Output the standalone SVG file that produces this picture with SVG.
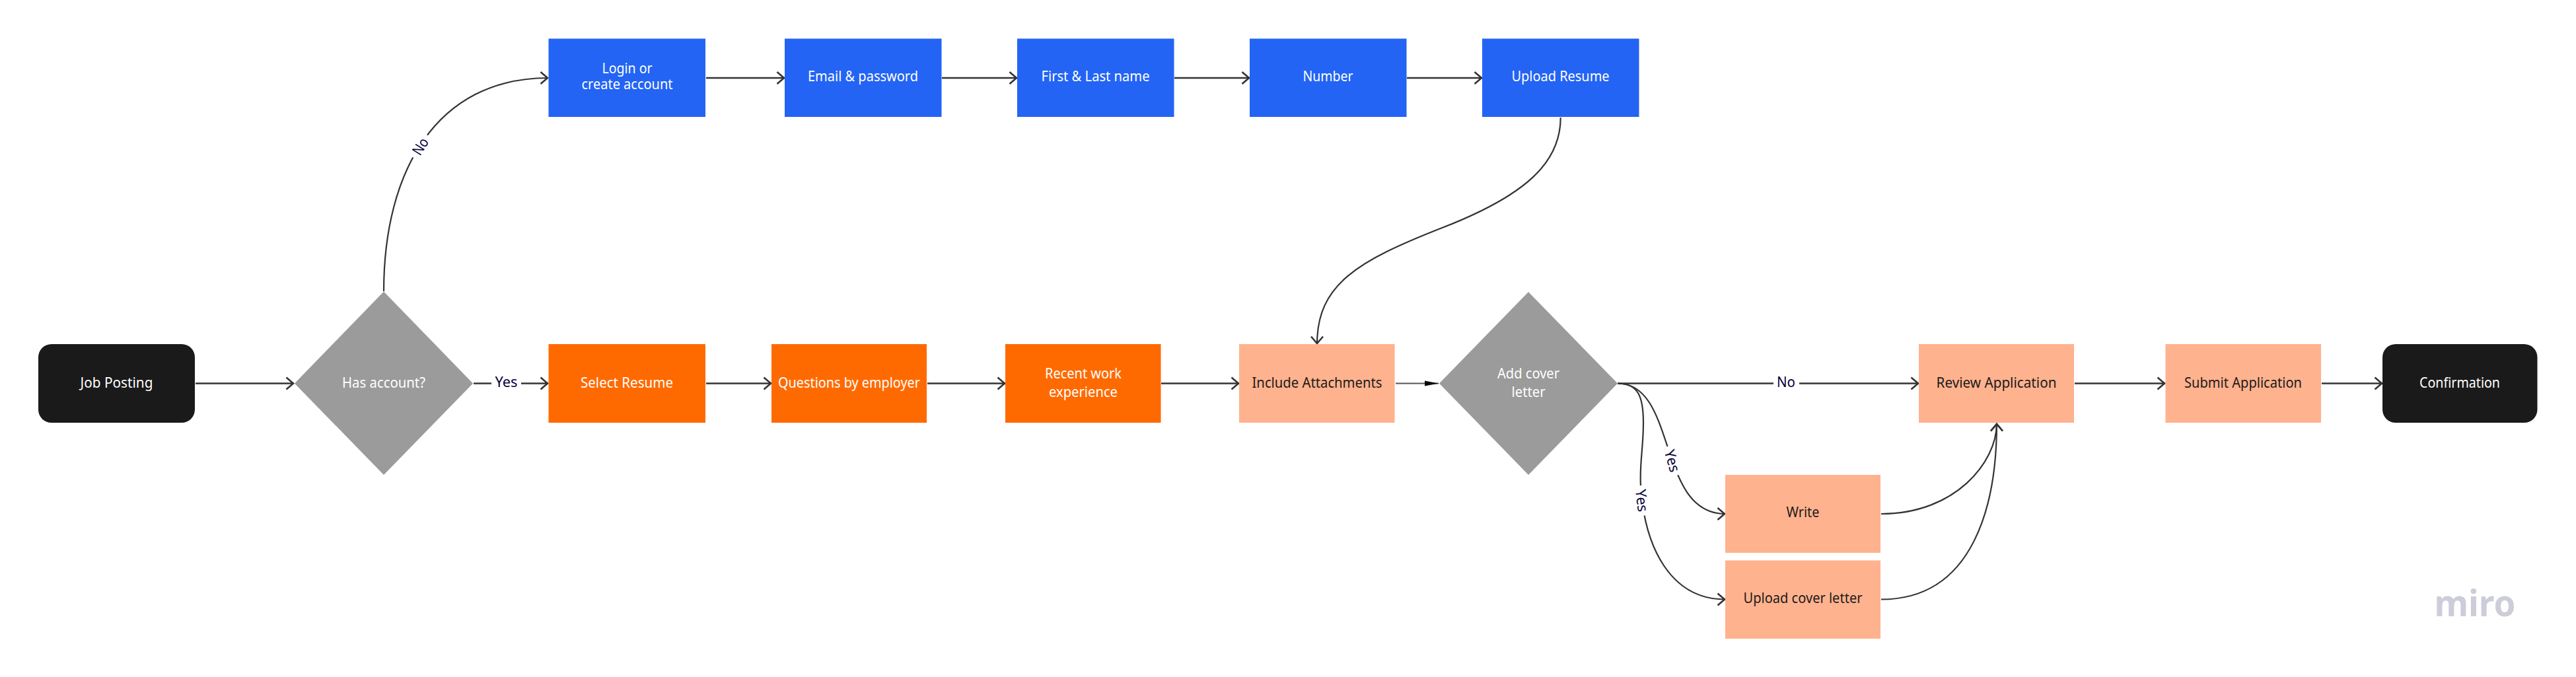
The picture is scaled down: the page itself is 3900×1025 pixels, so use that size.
<svg xmlns="http://www.w3.org/2000/svg" width="3900" height="1025" viewBox="0 0 3900 1025">
<style>
text{font-family:"Noto Sans","Open Sans","Liberation Sans",sans-serif;font-size:21px;text-anchor:middle}
.w{fill:#fff}.d{fill:#1c1a1a}.l{fill:#050038;font-size:22px}
.term{fill:#1a1a1a}.blue{fill:#2364f5}.orange{fill:#ff6a00}.peach{fill:#ffb28e}.dec{fill:#9b9b9b}
.c{fill:none;stroke:#333;stroke-width:2.6;marker-end:url(#open)}
.t{stroke-width:2.2}
</style>
<defs>
<marker id="open" markerUnits="userSpaceOnUse" markerWidth="26" markerHeight="26" refX="13" refY="12" orient="auto">
<path d="M1.5,3 L12,12 L1.5,21" fill="none" stroke="#333" stroke-width="2.6"/>
</marker>
<marker id="fill" markerUnits="userSpaceOnUse" markerWidth="24" markerHeight="14" refX="21" refY="7" orient="auto">
<path d="M0,3 L21,7 L0,11 Z" fill="#0a0a0a"/>
</marker>
</defs>
<rect width="3900" height="1025" fill="#fff"/>
<g id="connectors">
<path class="c" d="M296 580.500H445"/>
<path class="c" d="M717 580.500H830"/>
<path class="c t" d="M581 441C581 260 660 118 830 118"/>
<path class="c" d="M1069 118H1188"/>
<path class="c" d="M1426 118H1540"/>
<path class="c" d="M1778 118H1892"/>
<path class="c" d="M2130 118H2244"/>
<path class="c t" d="M2362.7 178C2362.7 245 2312 295 2183 345C2056 395 1994 430 1994 521"/>
<path class="c" d="M1069 580.500H1168"/>
<path class="c" d="M1404 580.500H1522"/>
<path class="c" d="M1758 580.500H1876"/>
<path d="M2113 580.500H2178" fill="none" stroke="#555" stroke-width="1.8" marker-end="url(#fill)"/>
<path class="c" d="M2450 580.500H2905"/>
<path class="c t" d="M2449 580.500C2540 580.500 2508 778 2612 778"/>
<path class="c t" d="M2449 580.500C2480 580.500 2488 600 2488 640C2488 680 2482 700 2484 736C2490 830 2530 907.500 2612 907.500"/>
<path class="c t" d="M2848 778C2960 778 3023 700 3023 641"/>
<path class="c t" d="M2848 907.500C2990 907.500 3023 760 3023 641"/>
<path class="c" d="M3141 580.500H3278"/>
<path class="c" d="M3515 580.500H3607"/>
<g id="label-yes-1"><rect x="744" y="565" width="45" height="30" fill="#fff"/><text class="l" x="766.500" y="586" textLength="34" lengthAdjust="spacingAndGlyphs">Yes</text></g>
<g id="label-no-1" transform="translate(637 222) rotate(-58)"><rect x="-20" y="-14" width="40" height="28" fill="#fff"/><text class="l" x="0" y="7" textLength="26" lengthAdjust="spacingAndGlyphs">No</text></g>
<g id="label-no-2"><rect x="2685" y="565" width="39" height="30" fill="#fff"/><text class="l" x="2704" y="586" textLength="28" lengthAdjust="spacingAndGlyphs">No</text></g>
<g id="label-yes-2" transform="translate(2531 698) rotate(74)"><rect x="-23" y="-14" width="46" height="28" fill="#fff"/><text class="l" x="0" y="7" textLength="34" lengthAdjust="spacingAndGlyphs">Yes</text></g>
<g id="label-yes-3" transform="translate(2485 758) rotate(83)"><rect x="-23" y="-14" width="46" height="28" fill="#fff"/><text class="l" x="0" y="7" textLength="34" lengthAdjust="spacingAndGlyphs">Yes</text></g>
</g>
<g id="job-posting"><rect class="term" x="58" y="521" width="237" height="119" rx="20"/><text class="w" x="176.500" y="587" textLength="110" lengthAdjust="spacingAndGlyphs">Job Posting</text></g>
<g id="has-account"><path class="dec" d="M581 441.500L716 580.500L581 719L446 580.500Z"/><text class="w" x="581" y="587" textLength="126" lengthAdjust="spacingAndGlyphs">Has account?</text></g>
<g id="login"><rect class="blue" x="830.500" y="58.500" width="237.500" height="118.500"/><text class="w" x="949.500" y="111" textLength="76" lengthAdjust="spacingAndGlyphs">Login or</text><text class="w" x="949.500" y="135" textLength="138" lengthAdjust="spacingAndGlyphs">create account</text></g>
<g id="email"><rect class="blue" x="1188" y="58.500" width="237.500" height="118.500"/><text class="w" x="1306.500" y="123" textLength="167" lengthAdjust="spacingAndGlyphs">Email &amp; password</text></g>
<g id="name"><rect class="blue" x="1540" y="58.500" width="237.500" height="118.500"/><text class="w" x="1658.500" y="123" textLength="164" lengthAdjust="spacingAndGlyphs">First &amp; Last name</text></g>
<g id="number"><rect class="blue" x="1892" y="58.500" width="237.500" height="118.500"/><text class="w" x="2010.500" y="123" textLength="76" lengthAdjust="spacingAndGlyphs">Number</text></g>
<g id="upload-resume"><rect class="blue" x="2244" y="58.500" width="237.500" height="118.500"/><text class="w" x="2362.500" y="123" textLength="148" lengthAdjust="spacingAndGlyphs">Upload Resume</text></g>
<g id="select-resume"><rect class="orange" x="830.500" y="521" width="237.500" height="119"/><text class="w" x="949" y="587" textLength="140" lengthAdjust="spacingAndGlyphs">Select Resume</text></g>
<g id="questions"><rect class="orange" x="1168" y="521" width="235" height="119"/><text class="w" x="1285.500" y="587" textLength="215" lengthAdjust="spacingAndGlyphs">Questions by employer</text></g>
<g id="recent-work"><rect class="orange" x="1522" y="521" width="235.500" height="119"/><text class="w" x="1640" y="573" textLength="116" lengthAdjust="spacingAndGlyphs">Recent work</text><text class="w" x="1640" y="601" textLength="104" lengthAdjust="spacingAndGlyphs">experience</text></g>
<g id="attachments"><rect class="peach" x="1876" y="521" width="235.500" height="119"/><text class="d" x="1994" y="587" textLength="197" lengthAdjust="spacingAndGlyphs">Include Attachments</text></g>
<g id="add-cover"><path class="dec" d="M2314 442L2449 580.500L2314 719L2179 580.500Z"/><text class="w" x="2314" y="573" textLength="94" lengthAdjust="spacingAndGlyphs">Add cover</text><text class="w" x="2314" y="601" textLength="51" lengthAdjust="spacingAndGlyphs">letter</text></g>
<g id="write"><rect class="peach" x="2612" y="719" width="235" height="118"/><text class="d" x="2729.500" y="783" textLength="50" lengthAdjust="spacingAndGlyphs">Write</text></g>
<g id="upload-cover"><rect class="peach" x="2612" y="848.500" width="235" height="118.500"/><text class="d" x="2729.500" y="913" textLength="180" lengthAdjust="spacingAndGlyphs">Upload cover letter</text></g>
<g id="review"><rect class="peach" x="2905" y="521" width="235" height="119"/><text class="d" x="3022.500" y="587" textLength="182" lengthAdjust="spacingAndGlyphs">Review Application</text></g>
<g id="submit"><rect class="peach" x="3278.500" y="521" width="235.500" height="119"/><text class="d" x="3396" y="587" textLength="178" lengthAdjust="spacingAndGlyphs">Submit Application</text></g>
<g id="confirmation"><rect class="term" x="3607" y="521" width="234.500" height="119" rx="20"/><text class="w" x="3724" y="587" textLength="122" lengthAdjust="spacingAndGlyphs">Confirmation</text></g>
<text id="miro" x="3747" y="933" style="font-size:56px;font-weight:700;fill:#cdcdda" textLength="123" lengthAdjust="spacingAndGlyphs">miro</text>
</svg>
